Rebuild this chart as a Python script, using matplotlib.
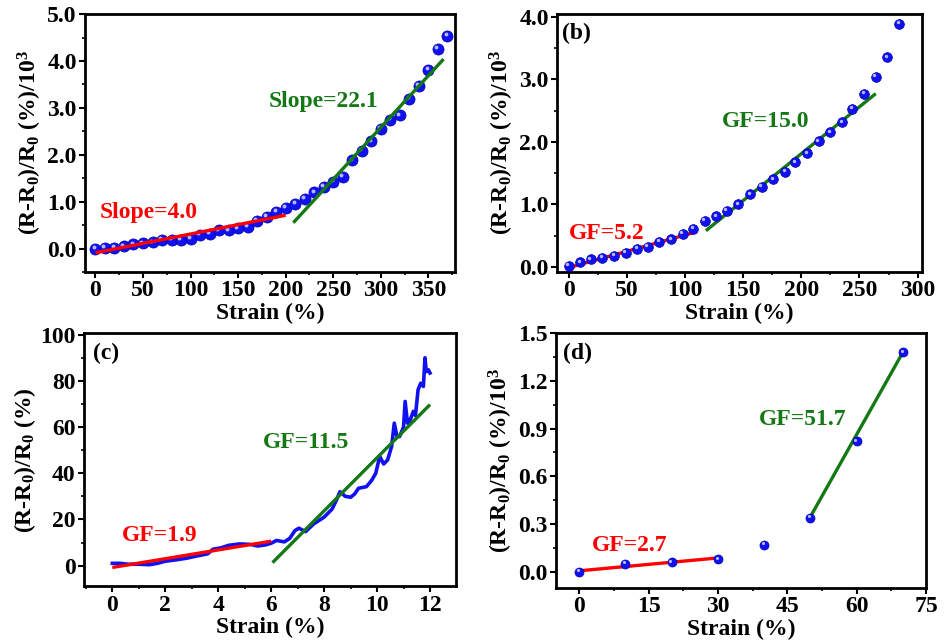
import numpy as np
import matplotlib

matplotlib.use("Agg")
import matplotlib.pyplot as plt
from matplotlib.ticker import MultipleLocator, FormatStrFormatter
from matplotlib.transforms import offset_copy

plt.rcParams["font.family"] = "Liberation Serif"
plt.rcParams["font.weight"] = "bold"
plt.rcParams["mathtext.fontset"] = "custom"
plt.rcParams["mathtext.rm"] = "Liberation Serif:bold"
plt.rcParams["mathtext.bf"] = "Liberation Serif:bold"
plt.rcParams["mathtext.it"] = "Liberation Serif:bold"
plt.rcParams["mathtext.default"] = "bf"

# (a) response in 10^3 %, strain in %
a_strain = [0, 10, 20, 30, 40, 50, 60, 70, 80, 90, 100, 110, 120, 130, 140, 150, 160, 170, 180,
            190, 200, 210, 220, 230, 240, 250, 260, 270, 280, 290, 300, 310, 320, 330, 340, 350,
            360, 370]
a_resp = [0.00, 0.02, 0.02, 0.05, 0.09, 0.11, 0.13, 0.18, 0.19, 0.19, 0.21, 0.29, 0.32, 0.39,
          0.39, 0.43, 0.46, 0.59, 0.68, 0.79, 0.87, 0.95, 1.06, 1.20, 1.32, 1.43, 1.53, 1.88,
          2.09, 2.29, 2.55, 2.75, 2.84, 3.20, 3.47, 3.81, 4.26, 4.54]

# (b)
b_strain = [0, 10, 19, 29, 39, 49, 59, 68, 78, 88, 98, 107, 117, 127, 136, 146, 156, 166, 176,
            186, 195, 205, 215, 225, 235, 244, 254, 264, 274, 284]
b_resp = [0.02, 0.08, 0.12, 0.15, 0.18, 0.23, 0.29, 0.32, 0.40, 0.44, 0.53, 0.61, 0.74, 0.81,
          0.90, 1.00, 1.16, 1.28, 1.40, 1.52, 1.67, 1.82, 2.01, 2.15, 2.31, 2.53, 2.77, 3.04,
          3.35, 3.89]

# (c) continuous trace, response in %
c_strain = [0.0, 0.3, 0.6, 1.0, 1.4, 1.7, 2.0, 2.4, 2.8, 3.2, 3.6, 3.8, 4.1, 4.4, 4.8, 5.2, 5.5,
            5.8, 6.0, 6.2, 6.5, 6.7, 6.9, 7.05, 7.3, 7.6, 8.0, 8.3, 8.45, 8.6, 8.8, 9.0, 9.15,
            9.3, 9.6, 9.8, 9.95, 10.1, 10.25, 10.4, 10.55, 10.65, 10.75, 10.85, 11.0, 11.06,
            11.15, 11.25, 11.37, 11.45, 11.55, 11.65, 11.75, 11.81, 11.86, 11.94, 12.0]
c_resp = [1.0, 1.0, 0.6, 0.6, 0.4, 1.0, 1.9, 2.5, 3.2, 4.2, 5.1, 7.1, 7.7, 8.8, 9.4, 9.2, 8.5,
          9.0, 9.7, 10.9, 10.3, 11.8, 15.2, 16.2, 14.7, 18.0, 21.0, 24.5, 28.0, 32.0, 30.0,
          29.6, 31.0, 33.5, 34.2, 37.0, 40.0, 47.3, 44.0, 45.8, 51.6, 61.7, 56.0, 55.9, 60.0,
          71.1, 61.7, 63.0, 66.8, 65.0, 76.2, 79.0, 77.6, 90.0, 84.0, 84.8, 83.4]

# (d)
d_strain = [0, 10, 20, 30, 40, 50, 60, 70]
d_resp = [0.00, 0.05, 0.06, 0.08, 0.17, 0.34, 0.82, 1.38]

# linear fits: (x start, x end, y at start, gauge factor); y scale per panel
a_fits = [(0, 200, -0.09, 4.0), (208, 366, 0.55, 22.1)]
b_fits = [(0, 110, -0.01, 5.2), (118, 264, 0.58, 15.0)]
c_fits = [(0, 6, -0.8, 1.9), (6.05, 12.0, 1.3, 11.5)]
d_fits = [(0, 30, 0.006, 2.7), (50, 70, 0.346, 51.7)]

RED = "#ff0000"
GREEN = "#147814"
BLUE = "#1010f0"
FS = 17


def draw_balls(ax, x, y, size):
    ax.plot(x, y, ls="none", marker="o", ms=size, mfc=BLUE, mec="#0000b0", mew=0.5, zorder=4)
    hl = offset_copy(ax.transData, fig=ax.figure, x=-size * 0.15, y=size * 0.15, units="points")
    ax.plot(x, y, ls="none", marker="o", ms=size * 0.35, mfc="#b8b8ff", mec="none",
            transform=hl, zorder=4.5)


def draw_fits(ax, fits, scale, z=5):
    colors = [RED, GREEN]
    for (x0, x1, y0, gf), col in zip(fits, colors):
        ax.plot([x0, x1], [y0, y0 + gf * scale * (x1 - x0)], color=col, lw=2.4,
                solid_capstyle="butt", zorder=z)


def style(ax, xlim, ylim, xmaj, ymaj, yfmt, ylabel):
    ax.set_xlim(*xlim)
    ax.set_ylim(*ylim)
    ax.xaxis.set_major_locator(MultipleLocator(xmaj))
    ax.xaxis.set_minor_locator(MultipleLocator(xmaj / 2))
    ax.yaxis.set_major_locator(MultipleLocator(ymaj))
    ax.yaxis.set_minor_locator(MultipleLocator(ymaj / 2))
    if yfmt:
        ax.yaxis.set_major_formatter(FormatStrFormatter(yfmt))
    for s in ax.spines.values():
        s.set_linewidth(2.0)
    ax.tick_params(which="major", direction="out", length=4, width=1.5, labelsize=FS, pad=2)
    ax.tick_params(which="minor", direction="out", length=2, width=1.2)
    ax.set_xlabel("Strain (%)", fontsize=FS, fontweight="bold", labelpad=1)
    ax.set_ylabel(ylabel, fontsize=FS, fontweight="bold", labelpad=2)


fig = plt.figure(figsize=(9.44, 6.43), dpi=100)
ax_a = fig.add_axes([0.090, 0.577, 0.392, 0.401])
ax_b = fig.add_axes([0.590, 0.577, 0.387, 0.401])
ax_c = fig.add_axes([0.089, 0.088, 0.394, 0.394])
ax_d = fig.add_axes([0.589, 0.086, 0.392, 0.396])

ylab_k = r"(R-R$_0$)/R$_0$ (%)/10$^3$"

# (a)
draw_balls(ax_a, a_strain, a_resp, 8)
draw_fits(ax_a, a_fits, 1e-3)
style(ax_a, (-11, 378), (-0.5, 5.0), 50, 1.0, "%.1f", ylab_k)
ax_a.text(5, 0.76, "Slope=4.0", color=RED, fontsize=FS, fontweight="bold", va="center")
ax_a.text(182, 3.14, "Slope=22.1", color=GREEN, fontsize=FS, fontweight="bold", va="center")

# (b)
draw_balls(ax_b, b_strain, b_resp, 7)
draw_fits(ax_b, b_fits, 1e-3, z=3)
style(ax_b, (-10, 304), (-0.08, 4.04), 50, 1.0, "%.1f", ylab_k)
ax_b.text(0, 0.54, "GF=5.2", color=RED, fontsize=FS, fontweight="bold", va="center")
ax_b.text(132, 2.32, "GF=15.0", color=GREEN, fontsize=FS, fontweight="bold", va="center")
ax_b.text(0.015, 0.925, "(b)", transform=ax_b.transAxes, fontsize=FS, fontweight="bold",
          va="center")

# (c)
ax_c.plot(c_strain, c_resp, color=BLUE, lw=2.6, zorder=3)
draw_fits(ax_c, c_fits, 1.0)
style(ax_c, (-1.07, 12.98), (-9, 100.7), 2, 20, None, r"(R-R$_0$)/R$_0$ (%)")
ax_c.text(0.35, 12.9, "GF=1.9", color=RED, fontsize=FS, fontweight="bold", va="center")
ax_c.text(5.7, 53.3, "GF=11.5", color=GREEN, fontsize=FS, fontweight="bold", va="center")
ax_c.text(0.023, 0.92, "(c)", transform=ax_c.transAxes, fontsize=FS, fontweight="bold",
          va="center")

# (d)
draw_balls(ax_d, d_strain, d_resp, 6.5)
draw_fits(ax_d, d_fits, 1e-3, z=3)
style(ax_d, (-5, 75), (-0.1, 1.5), 15, 0.3, "%.1f", ylab_k)
ax_d.text(2.7, 0.168, "GF=2.7", color=RED, fontsize=FS, fontweight="bold", va="center")
ax_d.text(38.9, 0.955, "GF=51.7", color=GREEN, fontsize=FS, fontweight="bold", va="center")
ax_d.text(0.018, 0.92, "(d)", transform=ax_d.transAxes, fontsize=FS, fontweight="bold",
          va="center")

fig.savefig("out.png", dpi=100)
